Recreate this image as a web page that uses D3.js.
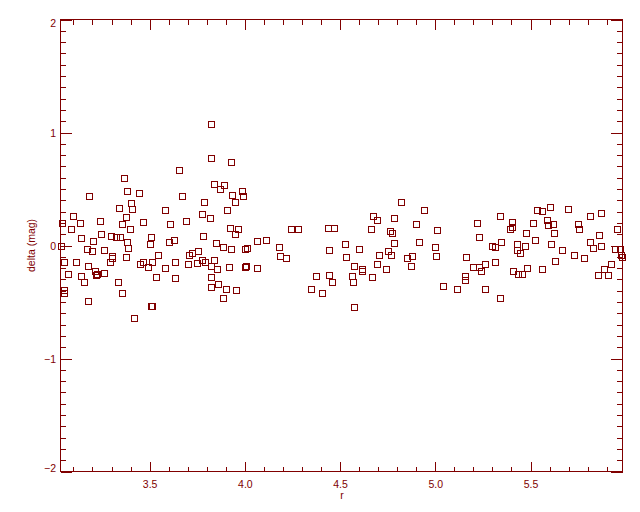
<!DOCTYPE html>
<html>
<head>
<meta charset="utf-8">
<script src="https://cdn.jsdelivr.net/npm/d3@7"></script>
<style>
  html, body { margin: 0; padding: 0; background: #ffffff; }
  svg { display: block; }
</style>
</head>
<body>
<div id="chart"></div>
<script>
// ---- data ----
const rValues = [
  3.363,3.184,3.379,3.442,3.400,3.337,3.410,3.100,3.374,3.041,3.137,3.237,3.353,3.463,3.085,3.395,
  3.247,3.295,3.321,3.342,3.509,3.142,3.205,3.379,3.500,3.034,3.389,3.169,3.200,3.258,3.300,3.300,
  3.374,3.048,3.116,3.290,3.463,3.510,3.174,3.447,3.489,3.213,3.226,3.216,3.258,3.074,3.142,3.153,
  3.332,3.353,3.048,3.050,3.174,3.505,3.515,3.416,
  3.820,3.820,3.925,3.652,3.836,3.868,3.889,3.983,3.931,3.988,3.668,3.783,3.946,3.904,3.579,3.773,
  3.815,3.689,3.605,3.920,3.962,3.946,3.778,3.626,3.600,3.847,3.883,3.925,4.003,4.012,3.752,3.720,
  3.705,3.542,3.773,3.836,3.789,3.747,3.699,3.631,3.820,3.915,3.999,4.008,3.579,3.852,3.531,3.631,
  3.820,3.820,3.857,3.899,3.952,3.883,
  4.241,4.277,4.439,4.467,4.062,4.109,4.178,4.183,4.214,4.440,4.062,4.372,4.440,4.456,4.346,4.404,
  4.819,4.940,4.672,4.693,4.782,4.661,4.898,4.761,4.771,5.008,4.524,4.782,4.913,4.997,4.598,4.750,
  4.703,4.766,4.530,4.850,4.876,5.003,4.572,4.693,4.871,4.614,4.614,4.740,4.561,4.566,4.666,4.572,
  5.339,5.402,5.402,5.392,5.218,5.476,5.229,5.344,5.297,5.313,5.428,5.470,5.428,5.444,5.160,5.313,
  5.260,5.197,5.229,5.239,5.483,5.407,5.434,5.455,5.155,5.155,5.039,5.113,5.260,5.339,
  5.602,5.533,5.560,5.696,5.870,5.812,5.586,5.512,5.591,5.617,5.749,5.754,5.954,5.623,5.859,5.523,
  5.812,5.828,5.607,5.870,5.665,5.728,5.780,5.628,5.943,5.970,5.975,5.982,5.922,5.885,5.854,5.906,
  5.560
];
const deltaValues = [
  0.593,0.442,0.478,0.469,0.372,0.336,0.319,0.265,0.248,0.195,0.195,0.221,0.186,0.204,0.150,0.142,
  0.106,0.088,0.071,0.071,0.071,0.062,0.044,0.035,0.012,0.000,-0.018,-0.035,-0.053,-0.044,-0.095,-0.110,
  -0.106,-0.142,-0.150,-0.150,-0.142,-0.142,-0.177,-0.168,-0.186,-0.230,-0.248,-0.265,-0.239,-0.248,-0.274,-0.327,
  -0.319,-0.416,-0.398,-0.416,-0.487,-0.531,-0.531,-0.646,
  1.071,0.770,0.743,0.664,0.540,0.496,0.531,0.478,0.451,0.434,0.434,0.389,0.381,0.310,0.310,0.283,
  0.239,0.221,0.186,0.159,0.150,0.106,0.088,0.053,0.027,0.018,-0.009,-0.027,-0.027,-0.018,-0.053,-0.062,
  -0.080,-0.088,-0.124,-0.124,-0.150,-0.159,-0.168,-0.150,-0.177,-0.186,-0.186,-0.183,-0.195,-0.212,-0.283,-0.292,
  -0.283,-0.363,-0.345,-0.389,-0.398,-0.469,
  0.150,0.150,0.159,0.159,0.044,0.053,-0.009,-0.097,-0.115,-0.044,-0.195,-0.274,-0.257,-0.319,-0.381,-0.416,
  0.381,0.310,0.257,0.230,0.239,0.142,0.186,0.124,0.115,0.133,0.009,0.018,0.027,-0.009,-0.035,-0.053,
  -0.080,-0.080,-0.106,-0.115,-0.097,-0.097,-0.177,-0.168,-0.177,-0.212,-0.230,-0.204,-0.274,-0.319,-0.283,-0.540,
  0.257,0.212,0.168,0.142,0.195,0.115,0.071,0.035,0.000,-0.009,0.009,0.000,-0.044,-0.068,-0.106,-0.150,
  -0.168,-0.186,-0.186,-0.230,-0.195,-0.230,-0.248,-0.248,-0.274,-0.301,-0.354,-0.381,-0.389,-0.469,
  0.345,0.310,0.301,0.327,0.292,0.257,0.230,0.195,0.177,0.186,0.186,0.150,0.142,0.115,0.097,0.053,
  0.027,-0.018,0.009,0.000,-0.044,-0.088,-0.115,-0.133,-0.027,-0.027,-0.080,-0.106,-0.168,-0.204,-0.265,-0.257,
  -0.212
];
const xDomain = [3.032, 5.983];
const yDomain = [-2, 2];
const xMajorTicks = [3.5, 4.0, 4.5, 5.0, 5.5];
const xTickLabels = ["3.5", "4.0", "4.5", "5.0", "5.5"];
const yMajorTicks = [-2, -1, 0, 1, 2];
const yTickLabels = ["\u22122", "\u22121", "0", "1", "2"];
const xTitle = "r";
const yTitle = "delta (mag)";

// ---- layout ----
const W = 640, H = 512;
const L = 60.5, R = 622.5, T = 19.5, B = 471.5;
const color = "#800000";
const font = "'Liberation Sans', Arial, Helvetica, sans-serif";

const svg = d3.select("#chart").append("svg")
  .attr("width", W).attr("height", H);

const x = d3.scaleLinear().domain(xDomain).range([L, R]);
const y = d3.scaleLinear().domain(yDomain).range([B, T]);

const xMinor = d3.range(31, 60).map(v => v / 10).filter(v => v > xDomain[0] && v < xDomain[1] && Math.abs(v * 2 - Math.round(v * 2)) > 1e-6);
const yMinor = d3.range(-19, 20).map(v => v / 10).filter(v => Math.abs(v - Math.round(v)) > 1e-6);

function styleAxis(g) {
  g.select(".domain").remove();
  g.selectAll(".tick line").attr("stroke", color).attr("stroke-width", 1)
    .attr("shape-rendering", "crispEdges");
  g.selectAll(".tick text").attr("fill", color)
    .style("font-family", font).style("font-size", "10.5px");
}

// bottom axis (labels)
const gxB = svg.append("g").attr("transform", `translate(0,${B})`)
  .call(d3.axisBottom(x).tickValues(xMajorTicks).tickSize(-10)
    .tickFormat((d, i) => xTickLabels[i]));
styleAxis(gxB);
gxB.selectAll(".tick text").attr("y", 16.5).attr("dy", null);
svg.append("g").attr("transform", `translate(0,${B})`)
  .call(d3.axisBottom(x).tickValues(xMinor).tickSize(-5).tickFormat(""))
  .call(styleAxis);
// top axis
svg.append("g").attr("transform", `translate(0,${T})`)
  .call(d3.axisTop(x).tickValues(xMajorTicks).tickSize(-10).tickFormat(""))
  .call(styleAxis);
svg.append("g").attr("transform", `translate(0,${T})`)
  .call(d3.axisTop(x).tickValues(xMinor).tickSize(-5).tickFormat(""))
  .call(styleAxis);

// left axis (labels)
const gyL = svg.append("g").attr("transform", `translate(${L},0)`)
  .call(d3.axisLeft(y).tickValues(yMajorTicks).tickSize(-11).tickPadding(4.5)
    .tickFormat((d, i) => yTickLabels[i]));
styleAxis(gyL);
gyL.selectAll(".tick text").attr("dy", d => d === yDomain[1] ? "0.32em" : "0.32em")
  .attr("y", d => d === yDomain[1] ? 4 : (d === yDomain[0] ? -3 : 0.8));
svg.append("g").attr("transform", `translate(${L},0)`)
  .call(d3.axisLeft(y).tickValues(yMinor).tickSize(-5).tickFormat(""))
  .call(styleAxis);
// right axis
svg.append("g").attr("transform", `translate(${R},0)`)
  .call(d3.axisRight(y).tickValues(yMajorTicks).tickSize(-12).tickFormat(""))
  .call(styleAxis);
svg.append("g").attr("transform", `translate(${R},0)`)
  .call(d3.axisRight(y).tickValues(yMinor).tickSize(-6).tickFormat(""))
  .call(styleAxis);

// frame
svg.append("rect").attr("x", L).attr("y", T).attr("width", R - L).attr("height", B - T)
  .attr("fill", "none").attr("stroke", color).attr("stroke-width", 1)
  .attr("shape-rendering", "crispEdges");

// points (square symbols)
const pts = rValues.map((r, i) => ({ r, d: deltaValues[i] }));
svg.append("g").selectAll("rect.pt").data(pts).join("rect")
  .attr("class", "pt")
  .attr("x", p => Math.round(x(p.r) - 3) + 0.5)
  .attr("y", p => Math.round(y(p.d) - 3) + 0.5)
  .attr("width", 6).attr("height", 6)
  .attr("fill", "none").attr("stroke", color).attr("stroke-width", 1);

// titles
svg.append("text").attr("x", (L + R) / 2 + 0.5).attr("y", 499)
  .attr("text-anchor", "middle").attr("fill", color)
  .style("font-family", font).style("font-size", "10.5px").text(xTitle);
svg.append("text").attr("transform", `translate(35,${(T + B) / 2}) rotate(-90)`)
  .attr("text-anchor", "middle").attr("fill", color)
  .style("font-family", font).style("font-size", "10.5px").text(yTitle);
</script>
</body>
</html>
